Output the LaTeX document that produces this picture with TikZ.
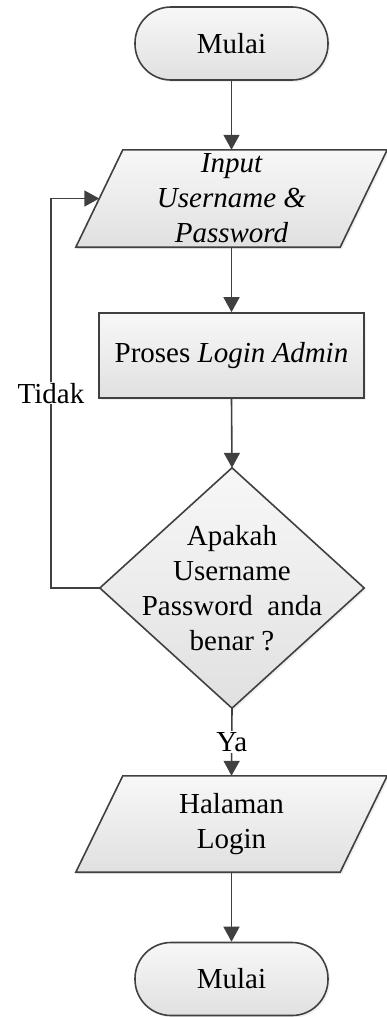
\documentclass[tikz,border=0pt]{standalone}
\usepackage{fontspec}
\setmainfont{Liberation Serif}
\usetikzlibrary{arrows.meta,shadows,calc}
\tikzset{
  box/.style={inner sep=2pt, align=center, font=\fontsize{29}{35}\selectfont},
  shapefill/.style={draw=black!75, line width=1.6pt, top color=white!97!black, bottom color=white!88!black,
     drop shadow={shadow xshift=2pt, shadow yshift=-2pt, opacity=0.12}},
  term/.style={box, shapefill, rounded corners=36pt, minimum width=193pt, minimum height=73pt},
  proc/.style={box, shapefill, minimum width=265pt, minimum height=85pt},
  ghost/.style={box, draw=none, fill=none},
  conn/.style={draw=black!75, line width=1.6pt, -{Triangle[width=16pt,length=15pt]}},
  lbl/.style={fill=white, inner sep=1pt, font=\fontsize{29}{35}\selectfont}
}
\begin{document}
\begin{tikzpicture}[x=1pt,y=-1pt]
\useasboundingbox (0,0) rectangle (387,1017);
% start
\node[term] (start) at (231.5,43.5) {Mulai};
% input parallelogram
\node[ghost, minimum width=264pt, minimum height=97pt] (in) at (231.5,198.5) {};
\path[shapefill] ($(in.north west)+(23.5,0)$) -- ($(in.north east)+(23.5,0)$) -- ($(in.south east)+(-23.5,0)$) -- ($(in.south west)+(-23.5,0)$) -- cycle;
\node[ghost] at (in.center) {\itshape Input\\\itshape Username \&\\\itshape Password};
% process
\node[proc] (proc) at (231.5,355.5) {Proses \textit{Login Admin}};
% decision
\node[ghost, minimum width=264pt, minimum height=240pt] (dia) at (232,588) {};
\path[shapefill] (dia.north) -- (dia.east) -- (dia.south) -- (dia.west) -- cycle;
\node[ghost] at (dia.center) {Apakah\\Username\\Password~~anda\\benar ?};
% output parallelogram
\node[ghost, minimum width=264pt, minimum height=96pt] (out) at (231.5,824) {};
\path[shapefill] ($(out.north west)+(23.5,0)$) -- ($(out.north east)+(23.5,0)$) -- ($(out.south east)+(-23.5,0)$) -- ($(out.south west)+(-23.5,0)$) -- cycle;
\node[ghost] at (out.center) {Halaman\\Login};
% end
\node[term] (stop) at (231.5,979) {Mulai};
% connectors
\draw[conn] (start.south) -- (in.north);
\draw[conn] (in.south) -- (proc.north);
\draw[conn] (proc.south) -- (dia.north);
\draw[conn] (dia.south) -- node[lbl] (ya) {Ya} (out.north);
\draw[conn] (out.south) -- (stop.north);
\coordinate (lp1) at (51,588);
\coordinate (lp2) at (51,198.5);
\draw[conn] (dia.west) -- (lp1) -- node[lbl, pos=0.5] (tidak) {Tidak} (lp2) -- (in.west);
\end{tikzpicture}
\end{document}
